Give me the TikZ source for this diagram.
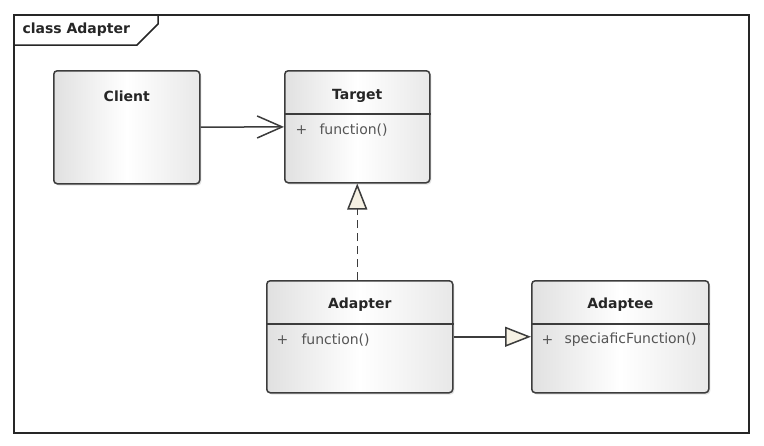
\documentclass[tikz,border=0pt]{standalone}
\usepackage{fontspec}
\setmainfont{DejaVu Sans}
\usetikzlibrary{arrows.meta,shadows,calc}

\definecolor{edge}{RGB}{60,60,60}
\definecolor{tipfill}{RGB}{246,241,228}
\definecolor{member}{RGB}{85,85,85}

\tikzset{
  classbox/.style={draw=edge, line width=1.5pt, rounded corners=3.5pt,
    left color=black!12, right color=black!9, middle color=white,
    drop shadow={opacity=0.22, shadow xshift=1.5pt, shadow yshift=-1.8pt},
    anchor=north west, inner sep=0pt},
  classname/.style={font=\bfseries\fontsize{14}{16}\selectfont, text=black!85},
  memberline/.style={font=\fontsize{14}{16}\selectfont, text=member, anchor=west},
  divider/.style={draw=edge, line width=1.3pt},
  assoc/.style={draw=edge, line width=1.5pt, -{Straight Barb[length=25pt,width=22pt,line width=1.5pt]}},
  realize/.style={draw=edge, line width=1.5pt, dash pattern=on 8pt off 5pt,
    -{Triangle[length=26pt,width=20pt,fill=tipfill,line width=1.5pt]}},
  generalize/.style={draw=edge, line width=1.5pt,
    -{Triangle[length=26pt,width=20pt,fill=tipfill,line width=1.5pt]}}
}

\begin{document}
\begin{tikzpicture}[x=1pt,y=-1pt]
\useasboundingbox[fill=white] (0,0) rectangle (764,445);

% diagram frame with its name tab
\draw[black!85, line width=1.8pt] (14,15) rectangle (749,433);
\draw[black!85, line width=1.5pt] (14,45) -- (137,45) -- (158,24) -- (158,15);
\node[font=\bfseries\fontsize{14}{16}\selectfont, text=black!85, anchor=west] (frametitle) at (19,30) {class Adapter};

% classes
\node[classbox, minimum width=146pt, minimum height=113pt] (client) at (53,70) {};
\node[classbox, minimum width=145pt, minimum height=112pt] (target) at (284,70) {};
\node[classbox, minimum width=186pt, minimum height=112pt] (adapter) at (266,280) {};
\node[classbox, minimum width=177pt, minimum height=112pt] (adaptee) at (531,280) {};

% compartments
\draw[divider] ($(target.north west)+(0,44)$) -- ($(target.north east)+(0,44)$);
\draw[divider] ($(adapter.north west)+(0,44)$) -- ($(adapter.north east)+(0,44)$);
\draw[divider] ($(adaptee.north west)+(0,44)$) -- ($(adaptee.north east)+(0,44)$);

% class names
\node[classname] (clientname) at ($(client.north)+(0,26)$) {Client};
\node[classname] (targetname) at ($(target.north)+(0,26)$) {Target};
\node[classname] (adaptername) at ($(adapter.north)+(0,25)$) {Adapter};
\node[classname] (adapteename) at ($(adaptee.north)+(0,25)$) {Adaptee};

% operations
\node[memberline] (targetvis) at (292,130) {+};
\node[memberline] (targetop) at (316,130) {function()};
\node[memberline] (adaptervis) at (273,340) {+};
\node[memberline] (adapterop) at (298,340) {function()};
\begin{scope}
  \clip ($(adaptee.north west)+(0,45)$) rectangle ($(adaptee.south east)+(-2,0)$);
  \node[memberline] (adapteevis) at (538,340) {+};
  \node[memberline] (adapteeop) at (561,340) {speciaficFunction()};
\end{scope}

% relationships
\draw[assoc] (client) -- (target);
\draw[realize] (adapter.north -| target.south) -- (target.south);
\draw[generalize] (adapter) -- (adaptee);
\end{tikzpicture}
\end{document}
